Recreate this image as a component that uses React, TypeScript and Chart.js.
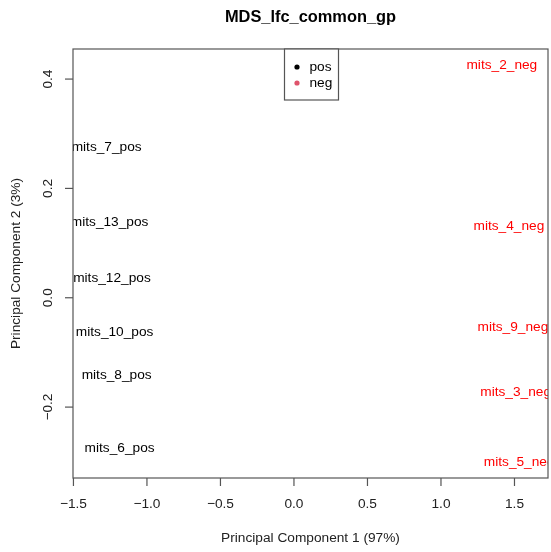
import React, { useEffect, useRef } from "react";
import { Chart, registerables } from "chart.js";

Chart.register(...registerables);

const sampleLabels = [
  "mits_7_pos", "mits_13_pos", "mits_12_pos", "mits_10_pos", "mits_8_pos", "mits_6_pos",
  "mits_2_neg", "mits_4_neg", "mits_9_neg", "mits_3_neg", "mits_5_neg",
];
const pc1 = [-1.274, -1.254, -1.238, -1.22, -1.206, -1.186, 1.414, 1.462, 1.489, 1.508, 1.532];
const pc2 = [0.2755, 0.139, 0.0355, -0.0634, -0.1416, -0.2747, 0.4262, 0.13, -0.0531, -0.172, -0.3];
const groups = ["pos", "pos", "pos", "pos", "pos", "pos", "neg", "neg", "neg", "neg", "neg"];
const legendLabels = ["pos", "neg"];
const xTicks = [-1.5, -1, -0.5, 0, 0.5, 1, 1.5];
const yTicks = [-0.2, 0, 0.2, 0.4];

const textColors: Record<string, string> = { pos: "#000000", neg: "#FF0000" };
const legendDotColors: Record<string, string> = { pos: "#000000", neg: "#DF536B" };

const FONT = '"Liberation Sans", Arial, sans-serif';

const fmt = (v: number) => v.toFixed(1).replace("-", "\u2212");

const rPlot = {
  id: "rPlot",
  afterDraw(chart: any) {
    const { ctx, chartArea } = chart;
    const { left, right, top, bottom } = chartArea;
    const xs = chart.scales.x;
    const ys = chart.scales.y;
    const cx = (left + right) / 2;
    ctx.save();

    // sample labels (clipped to plot region)
    ctx.save();
    ctx.beginPath();
    ctx.rect(left, top, right - left, bottom - top);
    ctx.clip();
    ctx.font = `13.7px ${FONT}`;
    ctx.textAlign = "center";
    ctx.textBaseline = "middle";
    chart.data.datasets.forEach((ds: any, di: number) => {
      const meta = chart.getDatasetMeta(di);
      meta.data.forEach((el: any, i: number) => {
        ctx.fillStyle = textColors[ds.group];
        ctx.fillText(ds.names[i], el.x, el.y);
      });
    });
    ctx.restore();

    // box
    ctx.strokeStyle = "#555555";
    ctx.lineWidth = 1.2;
    ctx.strokeRect(left, top, right - left, bottom - top);

    // x axis ticks
    ctx.fillStyle = "#222222";
    ctx.font = `13.7px ${FONT}`;
    ctx.textAlign = "center";
    ctx.textBaseline = "middle";
    xTicks.forEach((t) => {
      const px = xs.getPixelForValue(t);
      ctx.beginPath();
      ctx.moveTo(px, bottom);
      ctx.lineTo(px, bottom + 8);
      ctx.stroke();
      ctx.fillText(fmt(t), px, bottom + 26);
    });

    // y axis ticks (rotated labels)
    yTicks.forEach((t) => {
      const py = ys.getPixelForValue(t);
      ctx.beginPath();
      ctx.moveTo(left, py);
      ctx.lineTo(left - 8, py);
      ctx.stroke();
      ctx.save();
      ctx.translate(left - 25, py);
      ctx.rotate(-Math.PI / 2);
      ctx.fillText(fmt(t), 0, 0);
      ctx.restore();
    });

    // axis titles
    ctx.fillText("Principal Component 1 (97%)", cx, bottom + 60);
    ctx.save();
    ctx.translate(16, (top + bottom) / 2);
    ctx.rotate(-Math.PI / 2);
    ctx.fillText("Principal Component 2 (3%)", 0, 0);
    ctx.restore();

    // main title
    ctx.fillStyle = "#000000";
    ctx.font = `bold 16.4px ${FONT}`;
    ctx.fillText("MDS_lfc_common_gp", cx, 17);

    // legend (top)
    const lw = 54;
    const lh = 51;
    const lx = cx - lw / 2 + 1;
    ctx.fillStyle = "#ffffff";
    ctx.fillRect(lx, top, lw, lh);
    ctx.strokeStyle = "#555555";
    ctx.lineWidth = 1.2;
    ctx.strokeRect(lx, top, lw, lh);
    ctx.font = `13.7px ${FONT}`;
    ctx.textAlign = "left";
    legendLabels.forEach((g, i) => {
      const ly = top + 18 + i * 16;
      ctx.fillStyle = legendDotColors[g];
      ctx.beginPath();
      ctx.arc(lx + 12.5, ly, 2.6, 0, Math.PI * 2);
      ctx.fill();
      ctx.fillStyle = "#000000";
      ctx.fillText(g, lx + 25, ly);
    });

    ctx.restore();
  },
};

export default function App() {
  const ref = useRef<HTMLCanvasElement | null>(null);

  useEffect(() => {
    if (!ref.current) return;
    const mk = (g: string) => {
      const idx = groups.map((gg, i) => (gg === g ? i : -1)).filter((i) => i >= 0);
      return {
        label: g,
        group: g,
        names: idx.map((i) => sampleLabels[i]),
        data: idx.map((i) => ({ x: pc1[i], y: pc2[i] })),
        pointRadius: 0,
        pointHoverRadius: 0,
        showLine: false,
      };
    };
    const chart = new Chart(ref.current, {
      type: "scatter",
      data: { datasets: legendLabels.map(mk) as any },
      options: {
        animation: false,
        responsive: false,
        devicePixelRatio: 1,
        events: [],
        layout: { padding: { left: 73, right: 3, top: 49, bottom: 74 } },
        plugins: { legend: { display: false }, tooltip: { enabled: false }, title: { display: false } },
        scales: {
          x: { type: "linear", min: -1.503, max: 1.728, display: false },
          y: { type: "linear", min: -0.3297, max: 0.455, display: false },
        },
      },
      plugins: [rPlot],
    });
    return () => chart.destroy();
  }, []);

  return (
    <div style={{ position: "absolute", left: 0, top: 0, width: 551, height: 552, background: "#ffffff" }}>
      <canvas ref={ref} width={551} height={552} style={{ display: "block", width: 551, height: 552 }} />
    </div>
  );
}
